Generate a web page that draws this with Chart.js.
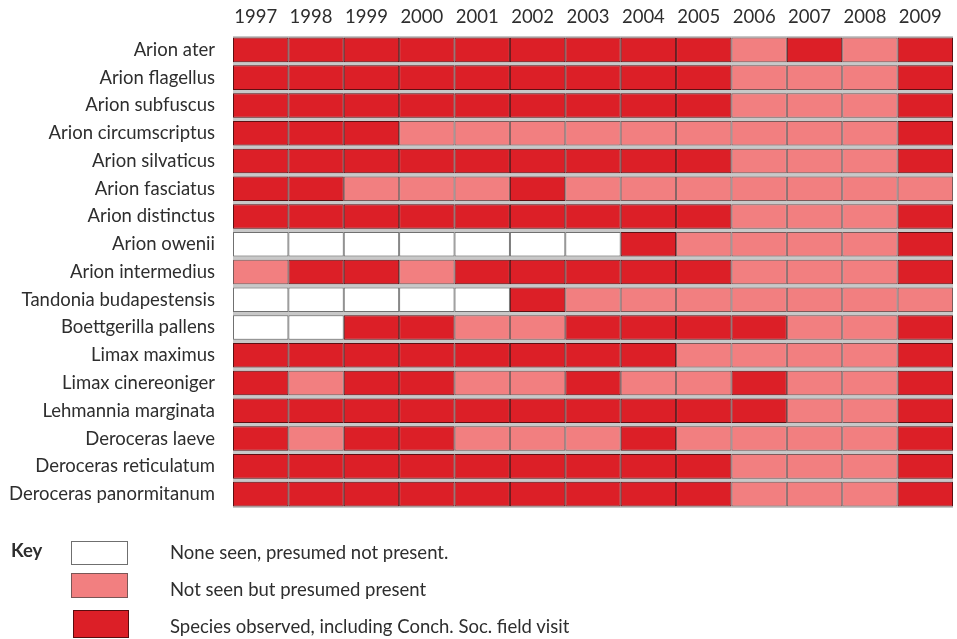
<!DOCTYPE html>
<html>
<head>
<meta charset="utf-8">
<script src="https://cdn.jsdelivr.net/npm/chart.js@4.4.1/dist/chart.umd.min.js"></script>
<style>
  html, body { margin: 0; padding: 0; background: #ffffff; }
  #wrap { position: relative; width: 957px; height: 639px; overflow: hidden; font-family: Lato, "Open Sans", sans-serif; color: #2e2e2e; }
  #wrap canvas { position: absolute; left: 0; top: 0; }
  .key { position: absolute; left: 11px; top: 539px; font-weight: bold; font-size: 18.5px; line-height: 22px; }
  .box { position: absolute; box-sizing: border-box; }
  .lbl { position: absolute; left: 170px; font-size: 18.5px; line-height: 22px; white-space: nowrap; }
</style>
</head>
<body>
<div id="wrap">
  <canvas id="chart" width="957" height="639"></canvas>
  <div class="key">Key</div>
  <div class="box" style="left:71px;top:541px;width:57px;height:24px;background:#ffffff;border:1.5px solid #6f6f6f;"></div>
  <div class="box" style="left:71px;top:573px;width:57px;height:25px;background:#f27f80;border:1.5px solid #7a5656;"></div>
  <div class="box" style="left:73px;top:610px;width:56px;height:28px;background:#dc1f27;border:1.5px solid #5a0d0f;"></div>
  <div class="lbl" style="top:541px;">None seen, presumed not present.</div>
  <div class="lbl" style="top:578px;">Not seen but presumed present</div>
  <div class="lbl" style="top:615px;">Species observed, including Conch. Soc. field visit</div>
</div>
<script>
// ---- data ----
const years = [1997, 1998, 1999, 2000, 2001, 2002, 2003, 2004, 2005, 2006, 2007, 2008, 2009];
const species = [
  "Arion ater", "Arion flagellus", "Arion subfuscus", "Arion circumscriptus",
  "Arion silvaticus", "Arion fasciatus", "Arion distinctus", "Arion owenii",
  "Arion intermedius", "Tandonia budapestensis", "Boettgerilla pallens",
  "Limax maximus", "Limax cinereoniger", "Lehmannia marginata",
  "Deroceras laeve", "Deroceras reticulatum", "Deroceras panormitanum"
];
// 0 = none seen, presumed not present; 1 = not seen but presumed present; 2 = species observed
const status = [
  [2,2,2,2,2,2,2,2,2,1,2,1,2],
  [2,2,2,2,2,2,2,2,2,1,1,1,2],
  [2,2,2,2,2,2,2,2,2,1,1,1,2],
  [2,2,2,1,1,1,1,1,1,1,1,1,2],
  [2,2,2,2,2,2,2,2,2,1,1,1,2],
  [2,2,1,1,1,2,1,1,1,1,1,1,1],
  [2,2,2,2,2,2,2,2,2,1,1,1,2],
  [0,0,0,0,0,0,0,2,1,1,1,1,2],
  [1,2,2,1,2,2,2,2,2,1,1,1,2],
  [0,0,0,0,0,2,1,1,1,1,1,1,1],
  [0,0,2,2,1,1,2,2,2,2,1,1,2],
  [2,2,2,2,2,2,2,2,1,1,1,1,2],
  [2,1,2,2,1,1,2,1,1,2,1,1,2],
  [2,2,2,2,2,2,2,2,2,2,1,1,2],
  [2,1,2,2,1,1,1,2,1,1,1,1,2],
  [2,2,2,2,2,2,2,2,2,1,1,1,2],
  [2,2,2,2,2,2,2,2,2,1,1,1,2]
];
const statusLabels = ["None seen, presumed not present.", "Not seen but presumed present", "Species observed, including Conch. Soc. field visit"];

// ---- styles ----
const fillColors = ["#ffffff", "#f27f80", "#dc1f27"];
const edgeColors = ["#707070", "#7c5a5a", "#5e0f12"];

const datasets = years.map((yr, i) => ({
  label: String(yr),
  data: species.map(() => [yr - 0.5, yr + 0.5]),
  backgroundColor: status.map(row => fillColors[row[i]]),
  borderColor: status.map(row => edgeColors[row[i]]),
  borderWidth: 1,
  borderSkipped: false,
  grouped: false,
  barPercentage: 1,
  categoryPercentage: 0.885
}));

const gapBackground = {
  id: 'gapBackground',
  beforeDatasetsDraw(chart) {
    const { ctx, chartArea: a } = chart;
    ctx.save();
    ctx.fillStyle = '#c8c8c8';
    ctx.fillRect(a.left, a.top, a.right - a.left, a.bottom - a.top);
    ctx.restore();
  }
};

const yFont = { family: 'Lato, "Open Sans", sans-serif', size: 18.5 };
const xFont = { family: 'Lato, "Open Sans", sans-serif', size: 18.5, lineHeight: 1 };

new Chart(document.getElementById('chart'), {
  type: 'bar',
  data: { labels: species, datasets },
  plugins: [gapBackground],
  options: {
    indexAxis: 'y',
    responsive: false,
    animation: false,
    layout: { padding: { left: 0, right: 4, top: 0, bottom: 131 } },
    plugins: {
      legend: { display: false },
      tooltip: {
        callbacks: {
          label: (c) => c.dataset.label + ': ' + statusLabels[status[c.dataIndex][c.datasetIndex]]
        }
      }
    },
    scales: {
      x: {
        type: 'linear',
        position: 'top',
        min: years[0] - 0.5,
        max: years[years.length - 1] + 0.5,
        afterBuildTicks: (s) => { s.ticks = years.map(v => ({ value: v })); },
        afterFit: (s) => { s.height = 36; },
        grid: { display: false },
        border: { display: false },
        ticks: {
          font: xFont, color: '#2e2e2e', padding: 2, labelOffset: -5,
          maxRotation: 0, autoSkip: false,
          callback: (v) => String(v)
        }
      },
      y: {
        type: 'category',
        afterFit: (s) => { s.width = 233; },
        grid: { display: false },
        border: { display: false },
        ticks: { font: yFont, color: '#2e2e2e', padding: 10, autoSkip: false }
      }
    }
  }
});
</script>
</body>
</html>
